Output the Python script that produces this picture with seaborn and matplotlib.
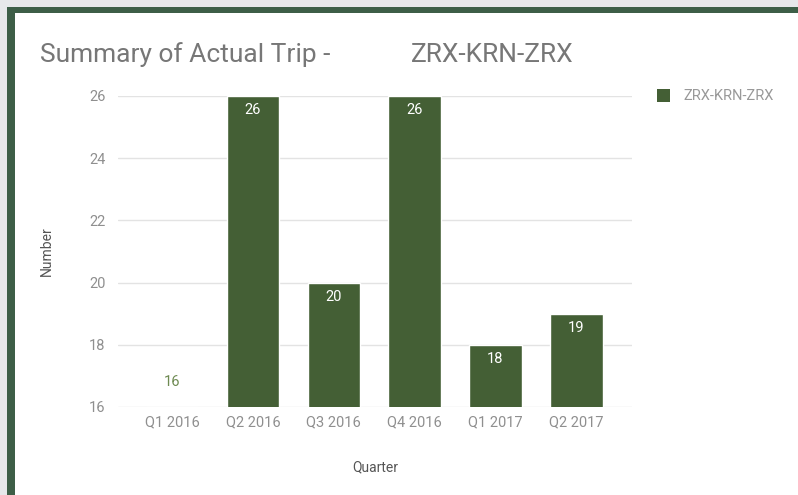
import matplotlib
matplotlib.use("Agg")
import matplotlib.pyplot as plt
import seaborn as sns
import pandas as pd
from matplotlib.patches import Rectangle

quarters = ["Q1 2016", "Q2 2016", "Q3 2016", "Q4 2016", "Q1 2017", "Q2 2017"]
values = [16, 26, 20, 26, 18, 19]
yticks = [16, 18, 20, 22, 24, 26]
series = "ZRX-KRN-ZRX"

df = pd.DataFrame({"Quarter": quarters, "Number": values})

sns.set_theme(style="white")
plt.rcParams["font.family"] = ["Roboto", "DejaVu Sans"]

W, H = 798, 495
fig = plt.figure(figsize=(W / 100, H / 100), dpi=100)
fig.patch.set_facecolor("#e7e8ea")

# background frame axes
bg = fig.add_axes([0, 0, 1, 1], zorder=0)
bg.set_xlim(0, W)
bg.set_ylim(H, 0)
bg.axis("off")
bg.add_patch(Rectangle((7, 7), W, H, facecolor="#3d5e47", edgecolor="none"))
bg.add_patch(Rectangle((15, 13), W, H, facecolor="white", edgecolor="none"))

bar_color = "#445f35"
ax = fig.add_axes([118 / W, 1 - 407 / H, (632 - 118) / W, (407 - 96) / H], zorder=2)
ax.set_facecolor("none")
sns.barplot(data=df, x="Quarter", y="Number", color=bar_color, width=0.65,
            saturation=1, ax=ax, zorder=3)
ax.set_ylim(16, 26)
ax.set_xlim(-0.67, 5.69)
ax.set_yticks(yticks)
ax.yaxis.grid(True, color="#e3e3e3", linewidth=1, zorder=0)
ax.set_axisbelow(True)
for s in ax.spines.values():
    s.set_visible(False)
ax.tick_params(axis="both", length=0, labelsize=10.5, colors="#8f8f8f")
ax.tick_params(axis="x", pad=6)
ax.tick_params(axis="y", pad=9)
ax.set_xlabel("Quarter", fontsize=10, color="#555555", labelpad=22)
ax.set_ylabel("Number", fontsize=10, color="#555555", labelpad=25)

for i, v in enumerate(values):
    if v <= 16.5:
        ax.text(i, v + 0.8, str(v), ha="center", va="center", fontsize=10.5,
                color="#6e8a52", zorder=4)
    else:
        ax.text(i, v - 0.45, str(v), ha="center", va="center", fontsize=10.5,
                color="white", zorder=4)

bg.text(40, 55, "Summary of Actual Trip -", fontsize=19, color="#777777",
        ha="left", va="center")
bg.text(411, 55, series, fontsize=19, color="#777777", ha="left", va="center")

# legend
bg.add_patch(Rectangle((657, 89), 13, 13, facecolor=bar_color, edgecolor="none"))
bg.text(683, 96, series, fontsize=10.5, color="#999999", ha="left", va="center")

fig.savefig("out.png", dpi=100, facecolor=fig.get_facecolor())
